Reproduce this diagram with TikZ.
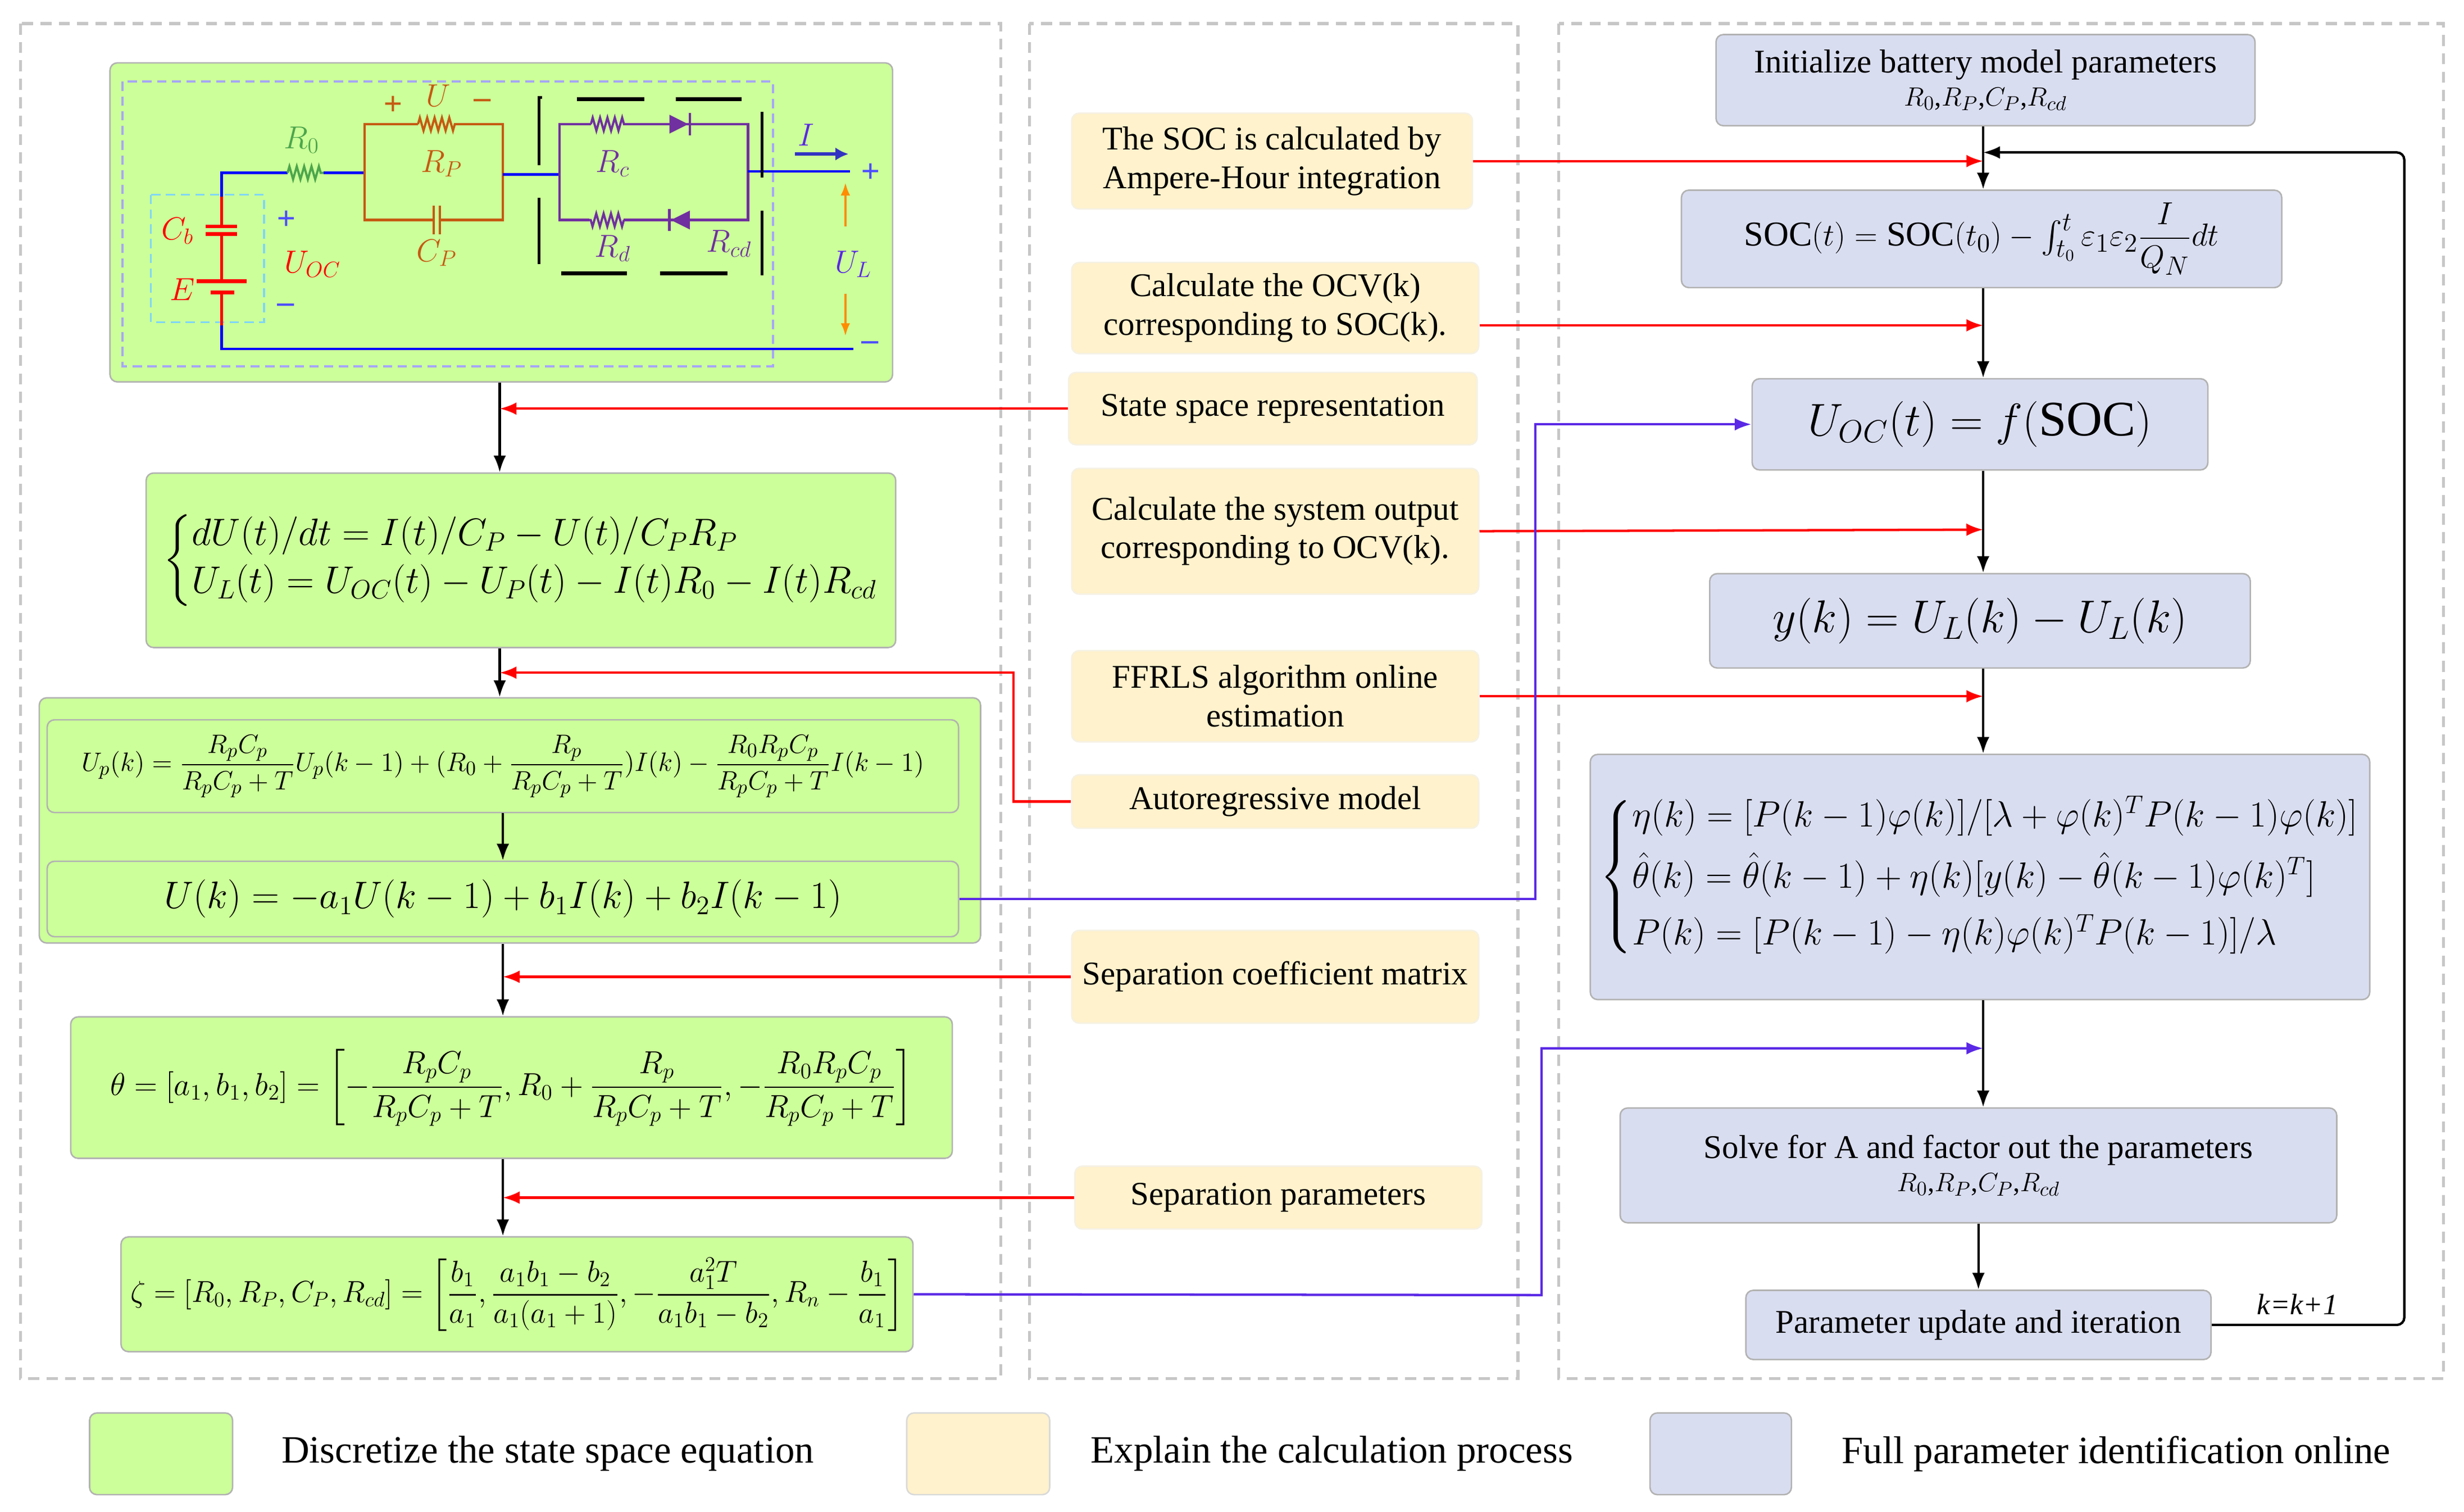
\documentclass[tikz,border=0pt]{standalone}
\usepackage{amsmath}
\usepackage{graphicx}
\usepackage{fontspec}
\setmainfont{Liberation Serif}
\usetikzlibrary{arrows.meta,decorations.pathmorphing}
\definecolor{gfill}{RGB}{204,255,153}
\definecolor{yfill}{RGB}{255,242,204}
\definecolor{bfill}{RGB}{217,221,240}
\definecolor{vio}{RGB}{90,40,230}
\definecolor{orng}{RGB}{197,90,17}
\definecolor{purp}{RGB}{112,48,160}
\begin{document}
\begin{tikzpicture}[x=0.3mm,y=-0.3mm,
    box/.style={draw=gray!60,line width=0.8pt,rounded corners=4pt,inner sep=0pt,align=center,
                font=\fontsize{18}{21}\selectfont},
    gbox/.style={box,fill=gfill},
    ybox/.style={box,fill=yfill,draw=yfill!80!gray!40},
    bbox/.style={box,fill=bfill},
    panel/.style={draw=gray!45,dashed,line width=1.6pt,dash pattern=on 6pt off 4pt},
    flow/.style={line width=1.3pt,-{Latex[length=3.2mm,width=2.4mm]}},
    redarr/.style={flow,red},
    vioarr/.style={flow,vio},
    wire/.style={line width=1.4pt,blue},
    res/.style={line width=1.2pt,decorate,decoration={zigzag,segment length=4pt,amplitude=3.5pt}},
    ]
\fill[white] (0,0) rectangle (1568,962);
% panels
\draw[panel] (13,15) rectangle (637,877);
\draw[panel] (655,15) rectangle (966,877);
\draw[panel] (992,15) rectangle (1555,877);

% ---------------- left column
\node[gbox,minimum width=498*0.3mm,minimum height=203*0.3mm] (circ) at (319,141.5) {};
\node[gbox,minimum width=599*0.3mm,minimum height=156*0.3mm] (disc) at (324.5,522) {};
\node[gbox,minimum width=477*0.3mm,minimum height=111*0.3mm] (state) at (331.5,356.5)
  {\fontsize{20}{24}\selectfont$\left\{\begin{array}{@{}l@{}}dU(t)/dt=I(t)/C_P-U(t)/C_PR_P\\[2pt]
   U_L(t)=U_{OC}(t)-U_P(t)-I(t)R_0-I(t)R_{cd}\end{array}\right.$};
\node[gbox,minimum width=580*0.3mm,minimum height=59*0.3mm] (upk) at (320,487.5)
  {\fontsize{15.5}{18}\selectfont$U_p(k)=\dfrac{R_pC_p}{R_pC_p+T}U_p(k-1)+(R_0+\dfrac{R_p}{R_pC_p+T})I(k)-\dfrac{R_0R_pC_p}{R_pC_p+T}I(k-1)$};
\node[gbox,minimum width=580*0.3mm,minimum height=48*0.3mm] (uk) at (320,572)
  {\fontsize{20.5}{23}\selectfont$U(k)=-a_1U(k-1)+b_1I(k)+b_2I(k-1)$};
\node[gbox,minimum width=561*0.3mm,minimum height=90*0.3mm] (theta) at (325.5,692)
  {\fontsize{18}{21}\selectfont$\theta=[a_1,b_1,b_2]=\left[-\dfrac{R_pC_p}{R_pC_p+T},R_0+\dfrac{R_p}{R_pC_p+T},-\dfrac{R_0R_pC_p}{R_pC_p+T}\right]$};
\node[gbox,minimum width=504*0.3mm,minimum height=73*0.3mm] (zeta) at (329,823.5)
  {\resizebox{147.6mm}{!}{$\zeta=[R_0,R_P,C_P,R_{cd}]=\left[\dfrac{b_1}{a_1},\dfrac{a_1b_1-b_2}{a_1(a_1+1)},-\dfrac{a_1^2T}{a_1b_1-b_2},R_n-\dfrac{b_1}{a_1}\right]$}};

% circuit
\draw[dashed,blue!35,line width=1.2pt,dash pattern=on 5pt off 3pt] (78,52) rectangle (492,233);
\draw[dashed,cyan!50,line width=1pt,dash pattern=on 5pt off 3pt] (96,124) rectangle (168,205);
\draw[wire] (141,125) -- (141,110) -- (183,110);
\draw[res,green!50!black!70] (183,110) -- (206,110);
\draw[wire] (206,110) -- (232,110);
\draw[orng,line width=1.4pt] (232,110) -- (232,79) -- (266,79);
\draw[res,orng] (266,79) -- (290,79);
\draw[orng,line width=1.4pt] (290,79) -- (320,79) -- (320,140) -- (280,140);
\draw[orng,line width=1.4pt] (276,140) -- (232,140) -- (232,110);
\draw[orng,line width=1.2pt] (276,131) -- (276,149) (280,131) -- (280,149);
\draw[wire] (320,111) -- (356,111);
\draw[purp,line width=1.4pt] (356,111) -- (356,79) -- (376,79);
\draw[res,purp] (376,79) -- (398,79);
\draw[purp,line width=1.4pt] (398,79) -- (476,79) -- (476,140) -- (397,140);
\draw[res,purp] (397,140) -- (375,140);
\draw[purp,line width=1.4pt] (375,140) -- (356,140) -- (356,111);
\fill[purp] (426,73) -- (426,85) -- (438,79) -- cycle;
\draw[purp,line width=1.4pt] (439,72) -- (439,86);
\fill[purp] (439,134) -- (439,146) -- (427,140) -- cycle;
\draw[purp,line width=1.4pt] (426,133) -- (426,147);
\draw[wire] (476,109) -- (541,109);
\draw[line width=1.6pt] (343,105) -- (343,62) -- (345,62);
\draw[line width=1.6pt] (343,126) -- (343,168);
\draw[line width=2.2pt] (367,63) -- (410,63) (430,63) -- (472,63);
\draw[line width=2.2pt] (357,174) -- (399,174) (420,174) -- (463,174);
\draw[line width=1.6pt] (485,71) -- (485,113) (485,134) -- (485,175);
\draw[red,line width=1.4pt] (141,125) -- (141,144) (141,149) -- (141,179) (141,186) -- (141,207);
\draw[red,line width=2pt] (131,144) -- (151,144) (131,149) -- (151,149);
\draw[red,line width=2pt] (125,179) -- (157,179) (134,186) -- (149,186);
\draw[wire] (141,207) -- (141,222) -- (543,222);
\begin{scope}[font=\fontsize{18}{20}\selectfont\itshape]
\node[green!50!black!70] (r0) at (192,89) {$R_0$};
\node[orng] (uu) at (279,61) {$U$};
\node[orng] (up) at (250,67) {\textbf{+}};
\node[orng] (um) at (307,66) {\textbf{--}};
\node[orng] (rp) at (281,104) {$R_P$};
\node[orng] (cp) at (278,161) {$C_P$};
\node[purp] (rc) at (390,104) {$R_c$};
\node[purp] (rd) at (390,158) {$R_d$};
\node[purp] (rcd) at (464,155) {$R_{cd}$};
\node[red] (cb) at (113,147) {$C_b$};
\node[red] (ee) at (116,184) {$E$};
\node[red] (uoc) at (199,168) {$U_{OC}$};
\node[blue!70] (bp) at (182,140) {\textbf{+}};
\node[blue!70] (bm) at (182,196) {\textbf{--}};
\node[blue!70] (op) at (554,110) {\textbf{+}};
\node[blue!70] (om) at (554,220) {\textbf{--}};
\node[vio] (ii) at (513,86) {$I$};
\node[vio] (ul) at (543,168) {$U_L$};
\end{scope}
\draw[blue!70!black!80,line width=1.8pt,-{Latex[length=2.5mm,width=2.5mm]}] (506,98) -- (540,98);
\draw[orange!90!yellow,line width=1.4pt,-{Latex[length=2.5mm,width=1.8mm]}] (538,144) -- (538,116);
\draw[orange!90!yellow,line width=1.4pt,-{Latex[length=2.5mm,width=1.8mm]}] (538,187) -- (538,214);

% left flow
\coordinate (lx) at (318,0);
\draw[flow] (circ.south -| lx) -- (state.north -| lx);
\draw[flow] (state.south -| lx) -- (disc.north -| lx);
\draw[flow] (upk) -- (uk);
\draw[flow] (disc.south -| 320,0) -- (theta.north -| 320,0);
\draw[flow] (theta.south -| 320,0) -- (zeta.north -| 320,0);

% ---------------- middle column
\node[ybox,minimum width=255*0.3mm,minimum height=61*0.3mm] (soc) at (809.5,102.5) {The SOC is calculated by\\Ampere-Hour integration};
\node[ybox,minimum width=259*0.3mm,minimum height=58*0.3mm] (ocv) at (811.5,196) {Calculate the OCV(k)\\corresponding to SOC(k).};
\node[ybox,minimum width=260*0.3mm,minimum height=46*0.3mm] (ssr) at (810,260) {State space representation};
\node[ybox,minimum width=259*0.3mm,minimum height=80*0.3mm] (sys) at (811.5,338) {Calculate the system output\\corresponding to OCV(k).};
\node[ybox,minimum width=259*0.3mm,minimum height=58*0.3mm] (ffr) at (811.5,443) {FFRLS algorithm online\\estimation};
\node[ybox,minimum width=259*0.3mm,minimum height=34*0.3mm] (arm) at (811.5,510) {Autoregressive model};
\node[ybox,minimum width=259*0.3mm,minimum height=59*0.3mm] (scm) at (811.5,621.5) {Separation coefficient matrix};
\node[ybox,minimum width=259*0.3mm,minimum height=40*0.3mm] (spa) at (813.5,762) {Separation parameters};

% ---------------- right column
\node[bbox,minimum width=343*0.3mm,minimum height=58*0.3mm] (init) at (1263.5,51)
  {Initialize battery model parameters\\[-3pt]{\fontsize{15}{17}\selectfont$R_0$,$R_P$,$C_P$,$R_{cd}$}};
\node[bbox,minimum width=382*0.3mm,minimum height=62*0.3mm] (soceq) at (1261,152)
  {\fontsize{19}{22}\selectfont$\mathrm{SOC}(t)=\mathrm{SOC}(t_0)-\int_{t_0}^{t}\varepsilon_1\varepsilon_2\dfrac{I}{Q_N}dt$};
\node[bbox,minimum width=290*0.3mm,minimum height=58*0.3mm] (uoceq) at (1260,270)
  {\fontsize{27}{30}\selectfont$U_{OC}(t)=f(\mathrm{SOC})$};
\node[bbox,minimum width=344*0.3mm,minimum height=60*0.3mm] (yk) at (1260,395)
  {\fontsize{23}{26}\selectfont$y(k)=U_L(k)-U_L(k)$};
\node[bbox,minimum width=496*0.3mm,minimum height=156*0.3mm] (rls) at (1260,558)
  {\resizebox{145.2mm}{!}{$\left\{\begin{array}{@{}l@{}}\eta(k)=[P(k-1)\varphi(k)]/[\lambda+\varphi(k)^TP(k-1)\varphi(k)]\\[6pt]
   \hat\theta(k)=\hat\theta(k-1)+\eta(k)[y(k)-\hat\theta(k-1)\varphi(k)^T]\\[6pt]
   P(k)=[P(k-1)-\eta(k)\varphi(k)^TP(k-1)]/\lambda\end{array}\right.$}};
\node[bbox,minimum width=456*0.3mm,minimum height=73*0.3mm] (solve) at (1259,741.5)
  {Solve for A and factor out the parameters\\[-3pt]{\fontsize{15}{17}\selectfont$R_0$,$R_P$,$C_P$,$R_{cd}$}};
\node[bbox,minimum width=296*0.3mm,minimum height=44*0.3mm] (upd) at (1259,843) {Parameter update and iteration};

\coordinate (j1) at (1262,97);
\coordinate (j2) at (1262,207);
\coordinate (j3) at (1262,337);
\coordinate (j4) at (1262,443);
\coordinate (j5) at (1262,667);
\draw[line width=1.3pt] (init.south -| j1) -- (j1);
\draw[flow] (j1) -- (soceq.north -| j1);
\draw[flow] (soceq.south -| j1) -- (uoceq.north -| j1);
\draw[flow] (uoceq.south -| j1) -- (yk.north -| j1);
\draw[flow] (yk.south -| j1) -- (rls.north -| j1);
\draw[flow] (rls.south -| j1) -- (solve.north -| j1);
\draw[flow] (solve.south -| upd.north) -- (upd.north);
\draw[flow,rounded corners=4pt] (upd.east) -- (1530,843) -- (1530,97) -- (j1);
\node[font=\fontsize{16}{18}\selectfont\itshape] (kk) at (1462,830) {k=k+1};

% explanation arrows
\draw[redarr] (soc.east) -- (soc.east -| j1);
\draw[redarr] (ocv.east |- j2) -- (j2);
\draw[redarr] (sys.east) -- (j3);
\draw[redarr] (ffr.east) -- (j4);
\draw[redarr] (ssr.west) -- (ssr.west -| lx);
\draw[redarr] (arm.west) -- (645,510) -- (645,428) -- (318,428);
\draw[redarr] (scm.west) -- (scm.west -| 320,0);
\draw[redarr] (spa.west) -- (spa.west -| 320,0);
\draw[vioarr] (uk.east) -- (977,572) -- (977,270) -- (uoceq.west);
\draw[vioarr] (zeta.east) -- (981,824) -- (981,667) -- (j5);

% legend
\node[gbox,minimum width=91*0.3mm,minimum height=52*0.3mm] (lg1) at (102.5,925) {};
\node[ybox,minimum width=91*0.3mm,minimum height=52*0.3mm,draw=gray!30] (lg2) at (622.5,925) {};
\node[bbox,minimum width=90*0.3mm,minimum height=52*0.3mm] (lg3) at (1095,925) {};
\node[anchor=west,font=\fontsize{21}{24}\selectfont] (lt1) at (175,925) {Discretize the state space equation};
\node[anchor=west,font=\fontsize{21}{24}\selectfont] (lt2) at (690,925) {Explain the calculation process};
\node[anchor=west,font=\fontsize{21}{24}\selectfont] (lt3) at (1168,925) {Full parameter identification online};
\end{tikzpicture}
\end{document}
